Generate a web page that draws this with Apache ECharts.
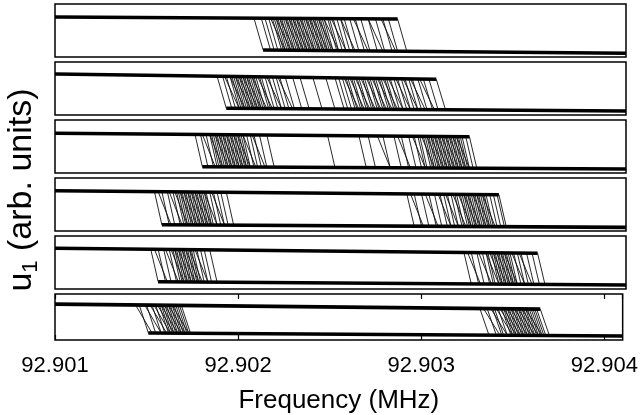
<!DOCTYPE html>
<html>
<head>
<meta charset="utf-8">
<script src="https://cdn.jsdelivr.net/npm/echarts@6/dist/echarts.min.js"></script>
<style>html,body{margin:0;padding:0;background:#fff}#c{width:641px;height:415px}</style>
</head>
<body>
<div id="c"></div>
<script>
// ---- data (frequency in MHz, amplitude in arb. units) ----
const xMin = 92.901, xMax = 92.9041, xStep = 0.001;
const tickLabels = ['92.901', '92.902', '92.903', '92.904'];

// transition start frequencies of the sweep traces, per panel
// "fast" = steep transitions, "slow" = more gradual transitions
const fast1 = [92.90208, 92.90212, 92.90214, 92.90216, 92.90218, 92.90219, 92.90220, 92.90221, 92.90222, 92.90223, 92.90224, 92.90225, 92.90226, 92.90227, 92.90228, 92.90229, 92.90230, 92.90231, 92.90232, 92.90233, 92.90234, 92.90235, 92.90236, 92.90237, 92.90238, 92.90239, 92.90240, 92.90241, 92.90242, 92.90243, 92.90244, 92.90245, 92.90246, 92.90248, 92.90249, 92.90251, 92.90253, 92.90255, 92.90257, 92.90260, 92.90263, 92.90266, 92.90270, 92.90274, 92.90278, 92.90281, 92.90286];
const slow1 = [92.90217, 92.90220, 92.90222, 92.90225, 92.90227, 92.90229, 92.90231, 92.90233, 92.90236, 92.90238, 92.90240, 92.90243, 92.90246, 92.90250, 92.90255, 92.90262, 92.90270, 92.90277];
const fast2 = [92.90188, 92.90191, 92.90193, 92.90195, 92.90196, 92.90197, 92.90198, 92.90199, 92.90200, 92.90201, 92.90202, 92.90203, 92.90204, 92.90205, 92.90206, 92.90207, 92.90208, 92.90209, 92.90211, 92.90212, 92.90214, 92.90216, 92.90218, 92.90220, 92.90222, 92.90225, 92.90229, 92.90233, 92.90240, 92.90247, 92.90252, 92.90254, 92.90256, 92.90258, 92.90259, 92.90261, 92.90262, 92.90264, 92.90265, 92.90267, 92.90268, 92.90270, 92.90271, 92.90273, 92.90274, 92.90276, 92.90277, 92.90279, 92.90280, 92.90282, 92.90284, 92.90286, 92.90288, 92.90290, 92.90292, 92.90294, 92.90297, 92.90300, 92.90303, 92.90307];
const slow2 = [92.90192, 92.90195, 92.90198, 92.90200, 92.90202, 92.90204, 92.90207, 92.90210, 92.90215, 92.90221, 92.90257, 92.90260, 92.90263, 92.90266, 92.90269, 92.90272, 92.90275, 92.90278, 92.90281, 92.90285, 92.90289, 92.90293, 92.90298];
const fast3 = [92.90176, 92.90179, 92.90182, 92.90184, 92.90185, 92.90186, 92.90187, 92.90188, 92.90189, 92.90190, 92.90191, 92.90192, 92.90193, 92.90194, 92.90195, 92.90196, 92.90197, 92.90198, 92.90199, 92.90200, 92.90201, 92.90202, 92.90204, 92.90206, 92.90208, 92.90211, 92.90215, 92.90248,
               92.90265, 92.90270, 92.90278, 92.90284, 92.90288, 92.90292, 92.90295, 92.90297, 92.90298, 92.90300, 92.90301, 92.90302, 92.90303, 92.90304, 92.90305, 92.90306, 92.90307, 92.90308, 92.90309, 92.90310, 92.90311, 92.90312, 92.90313, 92.90314, 92.90315, 92.90316, 92.90317, 92.90318, 92.90319, 92.90320, 92.90321, 92.90323, 92.90325];
const slow3 = [92.90180, 92.90184, 92.90187, 92.90189, 92.90191, 92.90193, 92.90195, 92.90197, 92.90199, 92.90202, 92.90207,
               92.90275, 92.90286, 92.90294, 92.90299, 92.90302, 92.90304, 92.90306, 92.90308, 92.90310, 92.90312, 92.90314, 92.90316, 92.90318];
const fast4 = [92.90154, 92.90158, 92.90161, 92.90164, 92.90166, 92.90167, 92.90168, 92.90169, 92.90170, 92.90171, 92.90172, 92.90173, 92.90174, 92.90175, 92.90176, 92.90177, 92.90178, 92.90179, 92.90180, 92.90181, 92.90182, 92.90184, 92.90186, 92.90188, 92.90190, 92.90193,
               92.90291, 92.90295, 92.90299, 92.90303, 92.90306, 92.90309, 92.90311, 92.90313, 92.90315, 92.90317, 92.90318, 92.90320, 92.90321, 92.90322, 92.90323, 92.90324, 92.90325, 92.90326, 92.90327, 92.90328, 92.90329, 92.90330, 92.90331, 92.90332, 92.90333, 92.90334, 92.90336, 92.90338, 92.90340, 92.90341];
const slow4 = [92.90156, 92.90162, 92.90165, 92.90168, 92.90170, 92.90172, 92.90174, 92.90176, 92.90178, 92.90181, 92.90185,
               92.90293, 92.90301, 92.90308, 92.90312, 92.90316, 92.90319, 92.90322, 92.90324, 92.90327, 92.90329, 92.90332];
const fast5 = [92.90152, 92.90156, 92.90159, 92.90162, 92.90164, 92.90165, 92.90166, 92.90167, 92.90168, 92.90169, 92.90170, 92.90171, 92.90172, 92.90173, 92.90174, 92.90175, 92.90177, 92.90179, 92.90181, 92.90184,
               92.90322, 92.90326, 92.90329, 92.90332, 92.90334, 92.90335, 92.90337, 92.90338, 92.90339, 92.90340, 92.90341, 92.90342, 92.90343, 92.90344, 92.90345, 92.90346, 92.90347, 92.90349, 92.90351, 92.90353, 92.90356, 92.90359, 92.90362];
const slow5 = [92.90154, 92.90160, 92.90163, 92.90165, 92.90167, 92.90169, 92.90171, 92.90173, 92.90176,
               92.90324, 92.90330, 92.90334, 92.90336, 92.90338, 92.90340, 92.90342, 92.90344, 92.90348, 92.90352];
const fast6 = [92.90146, 92.90150, 92.90153, 92.90155, 92.90157, 92.90158, 92.90159, 92.90160, 92.90161, 92.90162, 92.90163, 92.90164, 92.90165, 92.90166, 92.90167, 92.90168, 92.90169,
               92.90332, 92.90336, 92.90339, 92.90340, 92.90342, 92.90344, 92.90345, 92.90346, 92.90347, 92.90348, 92.90349, 92.90350, 92.90351, 92.90352, 92.90353, 92.90354, 92.90355, 92.90356, 92.90357, 92.90358, 92.90359, 92.90360, 92.90361, 92.90362, 92.90363, 92.90365];
const slow6 = [92.90144, 92.90149, 92.90152, 92.90154, 92.90156, 92.90158, 92.90160, 92.90162, 92.90164,
               92.90334, 92.90338, 92.90341, 92.90343, 92.90345, 92.90347, 92.90349, 92.90351, 92.90353, 92.90355, 92.90357];

// frequency span of one transition (MHz), per panel
const fastSpans = [0.00005, 0.00005, 0.00004, 0.00004, 0.00004, 0.00005];
const slowSpans = [0.00008, 0.00008, 0.00007, 0.00007, 0.00007, 0.00009];

// upper (large-amplitude) branch end points, per panel
const upper1 = [[92.901, 0.755], [92.90286, 0.717]];
const upper2 = [[92.901, 0.774], [92.90307, 0.674]];
const upper3 = [[92.901, 0.750], [92.90325, 0.685]];
const upper4 = [[92.901, 0.760], [92.90341, 0.685]];
const upper5 = [[92.901, 0.768], [92.90362, 0.674]];
const upper6 = [[92.901, 0.779], [92.90365, 0.672]];
// lower (small-amplitude) branch end points, per panel
const lower1 = [[92.90213, 0.132], [92.9041, 0.070]];
const lower2 = [[92.90193, 0.126], [92.9041, 0.075]];
const lower3 = [[92.90180, 0.119], [92.9041, 0.075]];
const lower4 = [[92.90158, 0.119], [92.9041, 0.068]];
const lower5 = [[92.90156, 0.138], [92.9041, 0.075]];
const lower6 = [[92.90151, 0.151], [92.9041, 0.087]];

// ---- build chart ----
const fasts = [fast1, fast2, fast3, fast4, fast5, fast6];
const slows = [slow1, slow2, slow3, slow4, slow5, slow6];
const uppers = [upper1, upper2, upper3, upper4, upper5, upper6];
const lowers = [lower1, lower2, lower3, lower4, lower5, lower6];

function onBranch(br, f) {
  const [a, b] = br;
  const t = Math.max(0, Math.min(1, (f - a[0]) / (b[0] - a[0])));
  return a[1] + t * (b[1] - a[1]);
}
function extend(br, f) {
  const [a, b] = br;
  return a[1] + (f - a[0]) / (b[0] - a[0]) * (b[1] - a[1]);
}

const grids = [], xAxes = [], yAxes = [], series = [];
const PANEL_TOP = 4, PANEL_H = 53, PANEL_GAP = 5;
function addTrace(i, up, lo, fj, w) {
  series.push({
    type: 'line', xAxisIndex: i, yAxisIndex: i, silent: true, showSymbol: false,
    animation: false, z: 2,
    lineStyle: { color: '#111', width: 0.9 },
    data: [[xMin, up[0][1]], [fj, onBranch(up, fj)], [fj + w, extend(lo, fj + w)], [xMax, lo[1][1]]]
  });
}
for (let i = 0; i < 6; i++) {
  grids.push({
    left: 55, right: 15, top: PANEL_TOP + i * (PANEL_H + PANEL_GAP), height: PANEL_H,
    show: true, borderColor: '#000', borderWidth: 1.5, backgroundColor: 'transparent'
  });
  const last = i === 5;
  xAxes.push({
    gridIndex: i, type: 'value', min: xMin, max: xMax, interval: xStep,
    axisLine: { show: false },
    axisTick: { show: last, inside: true, length: 5, lineStyle: { color: '#000', width: 1.2 } },
    axisLabel: {
      show: last, color: '#000', fontSize: 22, fontFamily: 'Liberation Sans', margin: 15,
      showMaxLabel: false,
      formatter: v => tickLabels[Math.round((v - xMin) / xStep)] || ''
    },
    splitLine: { show: false },
    name: last ? 'Frequency (MHz)' : '',
    nameLocation: 'middle', nameGap: 48,
    nameTextStyle: { color: '#000', fontSize: 26, fontFamily: 'Liberation Sans' }
  });
  yAxes.push({ gridIndex: i, min: 0, max: 1, show: false });

  const up = uppers[i], lo = lowers[i];
  fasts[i].forEach(fj => addTrace(i, up, lo, fj, fastSpans[i]));
  slows[i].forEach(fj => addTrace(i, up, lo, fj, slowSpans[i]));
  series.push({
    type: 'line', xAxisIndex: i, yAxisIndex: i, silent: true, showSymbol: false, animation: false, z: 3,
    lineStyle: { color: '#000', width: 3.6 }, data: up
  });
  series.push({
    type: 'line', xAxisIndex: i, yAxisIndex: i, silent: true, showSymbol: false, animation: false, z: 3,
    lineStyle: { color: '#000', width: 3.6 }, data: lo
  });
}
// inner ticks along the top edge of the bottom panel
xAxes.push({
  gridIndex: 5, type: 'value', position: 'top', min: xMin, max: xMax, interval: xStep,
  axisLine: { show: false },
  axisTick: { show: true, inside: true, length: 5, lineStyle: { color: '#000', width: 1.2 } },
  axisLabel: { show: false }, splitLine: { show: false }
});

const chart = echarts.init(document.getElementById('c'), null, { renderer: 'canvas' });
chart.setOption({
  animation: false,
  grid: grids, xAxis: xAxes, yAxis: yAxes, series: series,
  graphic: [{
    type: 'text', x: 22, y: 190, rotation: Math.PI / 2,
    style: {
      text: '{a|u}{s|1}{a| (arb. units)}',
      align: 'center', verticalAlign: 'middle', fill: '#000',
      rich: {
        a: { fontSize: 34, fontFamily: 'Liberation Sans', lineHeight: 40, fill: '#000' },
        s: { fontSize: 22, fontFamily: 'Liberation Sans', lineHeight: 16, verticalAlign: 'bottom', fill: '#000' }
      }
    }
  }]
});
</script>
</body>
</html>
